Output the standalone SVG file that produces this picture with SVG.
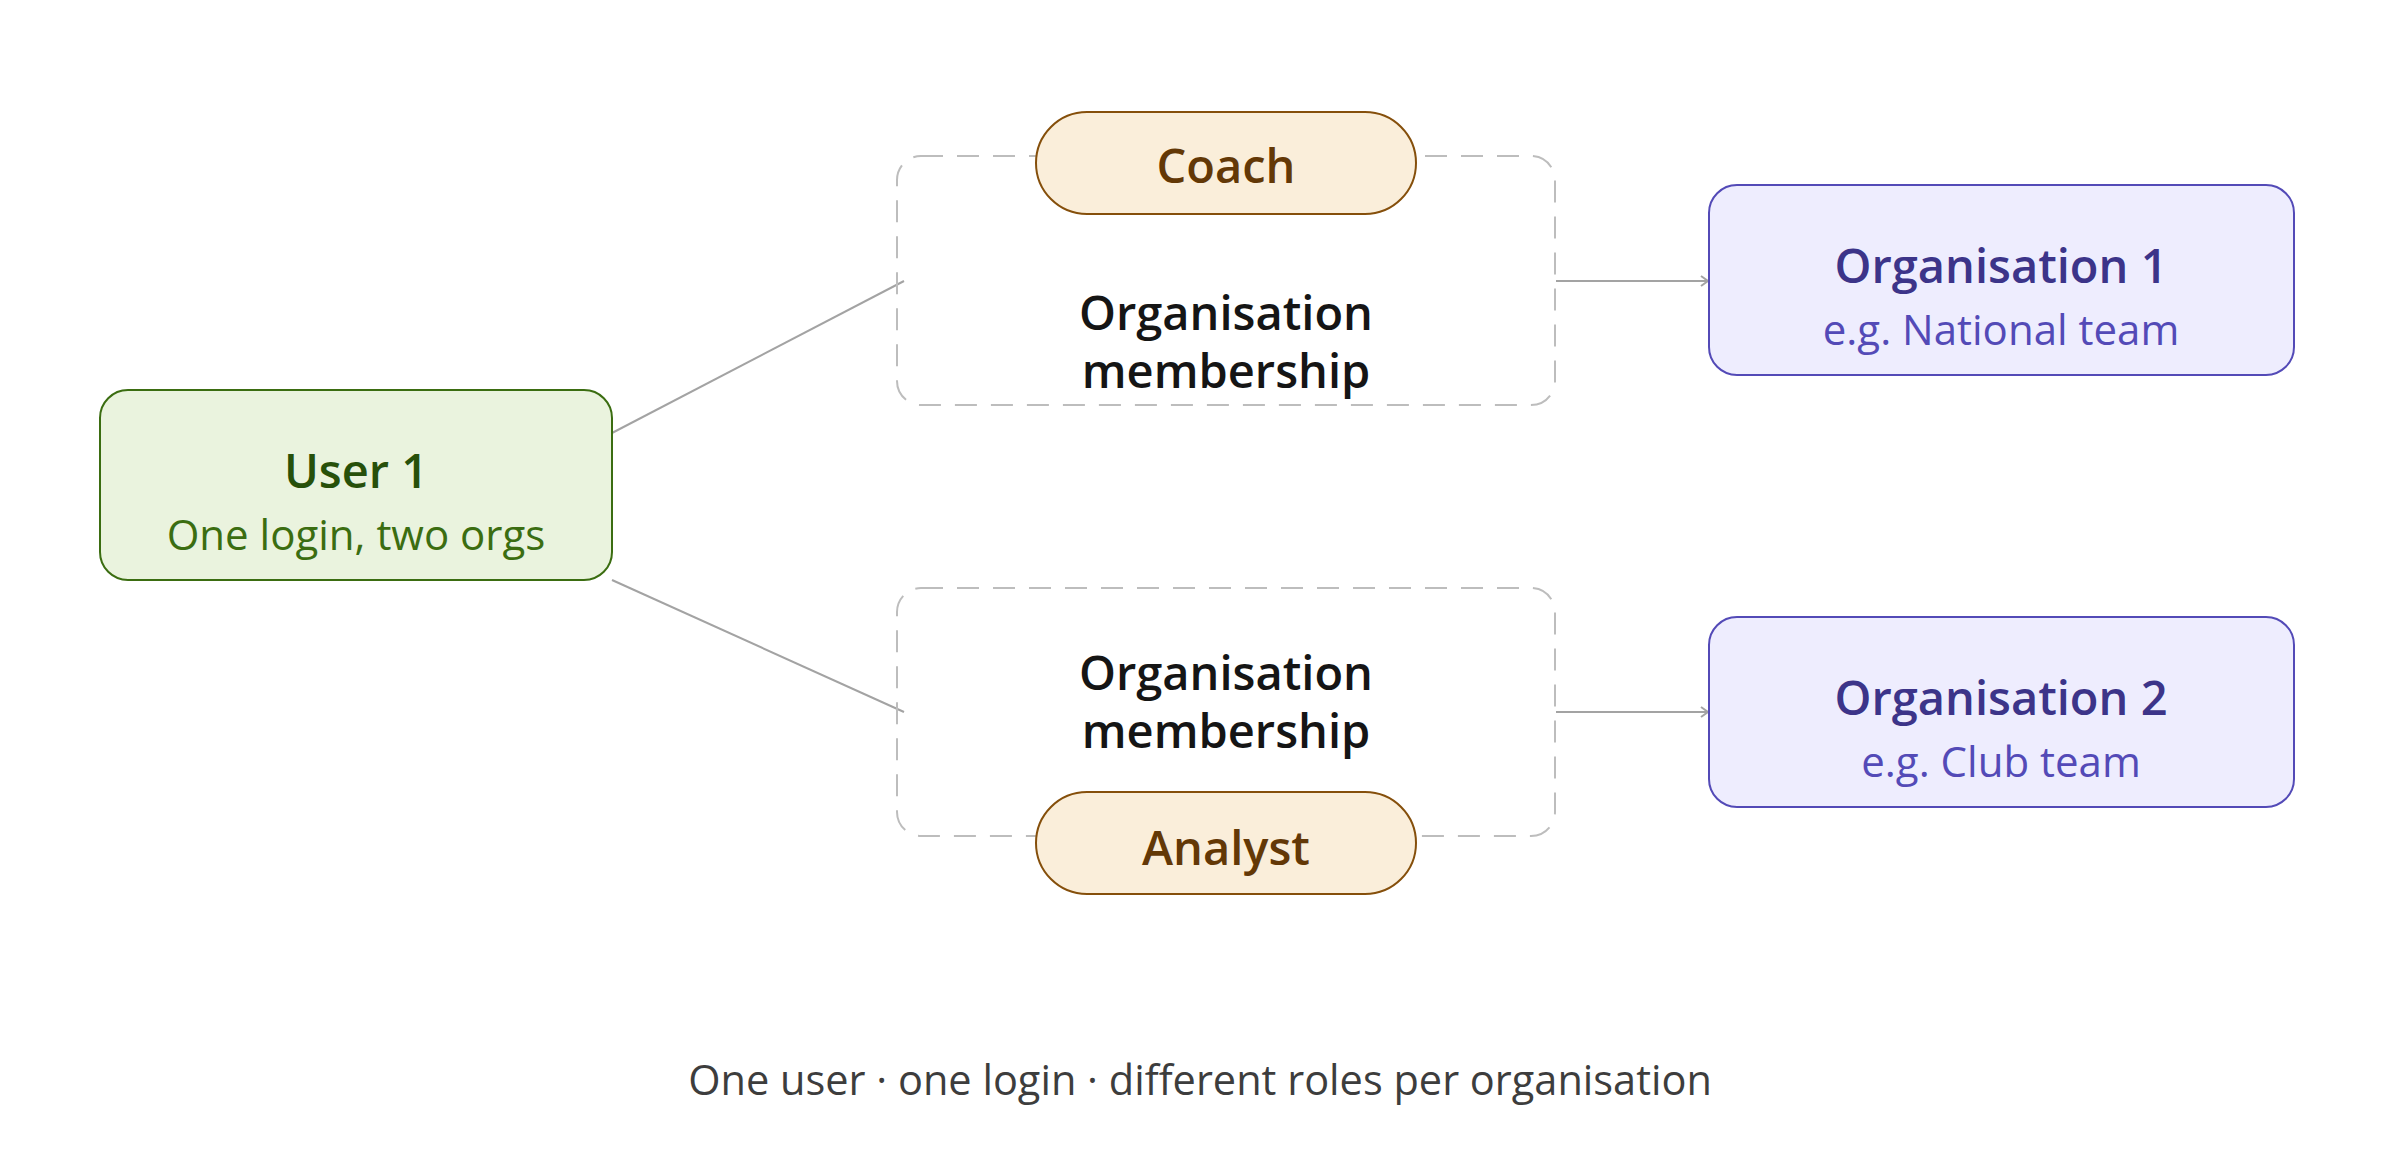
<svg xmlns="http://www.w3.org/2000/svg" width="2406" height="1173" viewBox="0 0 2406 1173">
<style>
text{font-family:"Open Sans","Noto Sans","Liberation Sans",sans-serif;text-anchor:middle}
.t{font-size:47px;font-weight:600}
.s{font-size:42px;font-weight:400}
.user rect{fill:#eaf3de;stroke:#3b6d11;stroke-width:2}
.user .t{fill:#27500a}.user .s{fill:#3b6d11}
.org rect{fill:#eeedfe;stroke:#534ab7;stroke-width:2}
.org .t{fill:#3c3489}.org .s{fill:#534ab7}
.mem rect{fill:none;stroke:#bdbdbd;stroke-width:2;stroke-dasharray:22 14}
.mem .t{fill:#151515}
.role rect{fill:#faeeda;stroke:#854f0b;stroke-width:2}
.role .t{fill:#633806}
.conn line{stroke:#a3a3a3;stroke-width:2;fill:none}
.foot{font-size:41.5px;fill:#3d3d3d}
</style>
<defs>
<marker id="arr" markerUnits="userSpaceOnUse" markerWidth="14" markerHeight="14" viewBox="0 0 14 14" refX="13" refY="7" orient="auto">
<path d="M6 2 L13 7 L6 12" fill="none" stroke="#a3a3a3" stroke-width="2"/>
</marker>
</defs>
<rect width="2406" height="1173" fill="#ffffff"/>
<g class="conn" id="connectors">
<line x1="612" y1="433" x2="904" y2="281"/>
<line x1="612" y1="580" x2="904" y2="712"/>
<line x1="1556" y1="281" x2="1708" y2="281" marker-end="url(#arr)"/>
<line x1="1556" y1="712" x2="1708" y2="712" marker-end="url(#arr)"/>
</g>
<g id="user1" class="user">
<rect x="100" y="390" width="512" height="190" rx="28"/>
<text class="t" x="356" y="488">User 1</text>
<text class="s" x="356" y="550">One login, two orgs</text>
</g>
<g id="membership1" class="mem">
<rect x="897" y="156" width="658" height="249" rx="24"/>
<text class="t" x="1226" y="330">Organisation</text>
<text class="t" x="1226" y="388">membership</text>
</g>
<g id="membership2" class="mem">
<rect x="897" y="588" width="658" height="248" rx="24"/>
<text class="t" x="1226" y="690">Organisation</text>
<text class="t" x="1226" y="748">membership</text>
</g>
<g id="coach" class="role">
<rect x="1036" y="112" width="380" height="102" rx="51"/>
<text class="t" x="1226" y="183">Coach</text>
</g>
<g id="analyst" class="role">
<rect x="1036" y="792" width="380" height="102" rx="51"/>
<text class="t" x="1226" y="865">Analyst</text>
</g>
<g id="org1" class="org">
<rect x="1709" y="185" width="585" height="190" rx="28"/>
<text class="t" x="2001" y="283">Organisation 1</text>
<text class="s" x="2001" y="345">e.g. National team</text>
</g>
<g id="org2" class="org">
<rect x="1709" y="617" width="585" height="190" rx="28"/>
<text class="t" x="2001" y="715">Organisation 2</text>
<text class="s" x="2001" y="777">e.g. Club team</text>
</g>
<text class="foot" x="1200" y="1095">One user · one login · different roles per organisation</text>
</svg>
